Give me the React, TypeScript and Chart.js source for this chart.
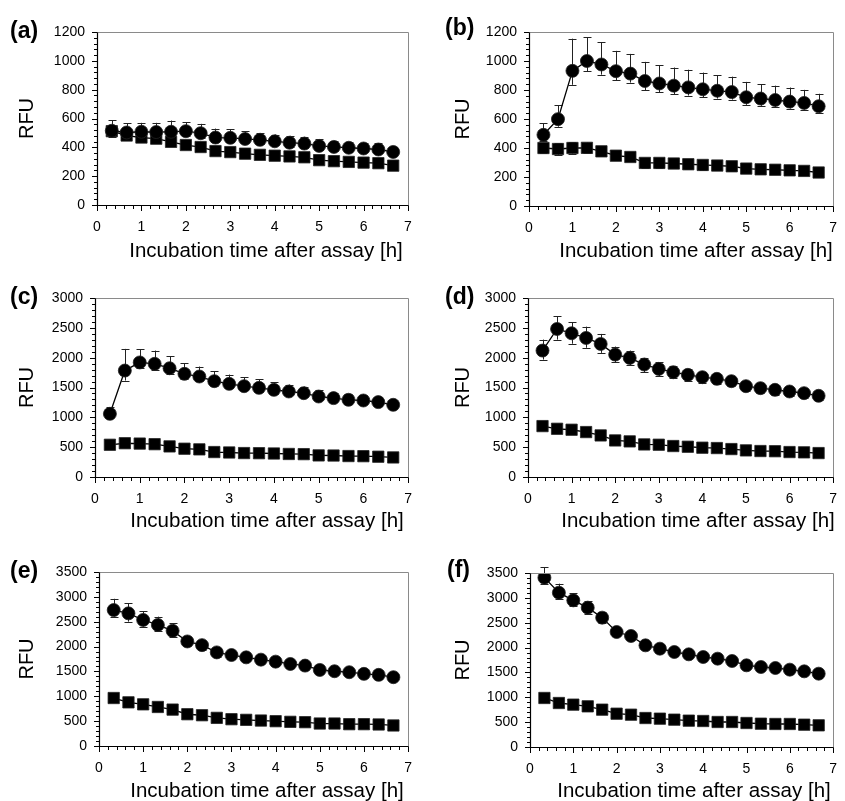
import React, { useEffect, useRef } from 'react';
import { Chart, registerables } from 'chart.js';

Chart.register(...registerables);

// ---------- DATA ----------
const hours = [0.333, 0.667, 1.0, 1.333, 1.667, 2.0, 2.333, 2.667, 3.0, 3.333, 3.667, 4.0, 4.333, 4.667, 5.0, 5.333, 5.667, 6.0, 6.333, 6.667];
const xTicks = [0, 1, 2, 3, 4, 5, 6, 7];
const panelLabels = ['(a)', '(b)', '(c)', '(d)', '(e)', '(f)'];
const yAxisMax = [1200, 1200, 3000, 3000, 3500, 3500];
const yAxisStep = [200, 200, 500, 500, 500, 500];

// (a)
const aCircle = [515, 503, 508, 506, 508, 512, 498, 468, 466, 458, 452, 442, 432, 426, 410, 403, 397, 392, 385, 368];
const aCircleUp = [72, 64, 62, 64, 78, 63, 65, 62, 58, 52, 48, 47, 48, 47, 45, 42, 40, 40, 42, 36];
const aCircleDown = [42, 36, 36, 36, 40, 36, 36, 32, 30, 28, 28, 28, 28, 28, 26, 25, 25, 25, 25, 24];
const aSquare = [512, 482, 468, 460, 438, 416, 402, 374, 367, 356, 348, 342, 337, 331, 311, 304, 299, 294, 290, 273];
const aSquareErr = [20, 18, 18, 18, 16, 16, 15, 15, 15, 14, 14, 14, 14, 14, 13, 13, 13, 13, 13, 12];

// (b)
const bCircle = [491, 599, 932, 1000, 976, 930, 913, 862, 845, 830, 818, 805, 795, 786, 750, 741, 731, 720, 711, 688];
const bCircleUp = [80, 96, 222, 165, 152, 140, 136, 132, 126, 125, 122, 115, 108, 106, 106, 100, 99, 97, 90, 86];
const bCircleDown = [42, 52, 96, 70, 70, 62, 62, 62, 60, 58, 56, 55, 54, 52, 52, 50, 50, 48, 46, 45];
const bSquare = [400, 393, 400, 401, 377, 347, 338, 297, 297, 293, 288, 283, 279, 274, 258, 253, 250, 246, 242, 231];
const bSquareErr = [35, 40, 38, 35, 30, 28, 28, 32, 32, 32, 32, 32, 32, 32, 30, 30, 30, 30, 30, 28];

// (c)
const cCircle = [1059, 1784, 1920, 1896, 1823, 1729, 1684, 1606, 1561, 1522, 1494, 1461, 1433, 1405, 1349, 1322, 1294, 1282, 1255, 1210];
const cCircleUp = [112, 363, 223, 223, 201, 178, 167, 167, 156, 151, 145, 128, 117, 111, 101, 94, 89, 84, 83, 72];
const cCircleDown = [60, 167, 95, 95, 90, 85, 80, 80, 75, 72, 70, 65, 60, 58, 55, 52, 50, 48, 47, 45];
const cSquare = [540, 566, 560, 550, 513, 474, 463, 418, 411, 401, 399, 394, 386, 383, 362, 360, 351, 349, 340, 328];
const cSquareErr = [30, 35, 35, 33, 30, 28, 27, 25, 25, 25, 24, 24, 24, 23, 22, 22, 22, 22, 21, 21];

// (d)
const dCircle = [2119, 2481, 2409, 2331, 2230, 2052, 1996, 1885, 1812, 1756, 1712, 1673, 1645, 1606, 1522, 1489, 1461, 1433, 1405, 1361];
const dCircleUp = [184, 212, 184, 189, 168, 134, 123, 111, 112, 101, 100, 80, 70, 62, 60, 61, 56, 56, 50, 50];
const dCircleDown = [150, 178, 175, 165, 150, 130, 122, 125, 120, 105, 100, 95, 90, 85, 85, 80, 80, 78, 75, 78];
const dSquare = [853, 808, 792, 753, 697, 613, 597, 546, 541, 519, 507, 491, 485, 468, 446, 435, 432, 418, 413, 401];
const dSquareErr = [66, 35, 35, 33, 32, 30, 30, 28, 28, 27, 27, 26, 26, 25, 25, 25, 24, 24, 24, 23];

// (e)
const eCircle = [2735, 2668, 2535, 2435, 2316, 2103, 2029, 1883, 1830, 1783, 1737, 1697, 1650, 1617, 1530, 1504, 1484, 1451, 1431, 1384];
const eCircleUp = [226, 200, 180, 167, 153, 93, 87, 87, 73, 67, 60, 53, 47, 40, 40, 35, 35, 35, 30, 30];
const eCircleDown = [133, 166, 133, 119, 120, 87, 93, 86, 80, 70, 65, 60, 55, 50, 48, 45, 45, 42, 40, 40];
const eSquare = [965, 878, 838, 785, 732, 639, 619, 566, 539, 526, 512, 499, 486, 479, 452, 452, 439, 439, 433, 413];
const eSquareErr = [50, 30, 30, 28, 28, 25, 25, 23, 22, 22, 22, 21, 21, 21, 20, 20, 20, 20, 20, 20];

// (f)
const fCircle = [3406, 3104, 2950, 2803, 2602, 2313, 2233, 2045, 1978, 1911, 1864, 1810, 1777, 1730, 1643, 1609, 1589, 1556, 1522, 1475];
const fCircleUp = [215, 181, 148, 127, 114, 70, 60, 50, 45, 42, 40, 38, 36, 35, 34, 33, 32, 31, 30, 30];
const fCircleDown = [121, 120, 114, 121, 101, 70, 60, 50, 45, 42, 40, 38, 36, 35, 34, 33, 32, 31, 30, 30];
const fSquare = [986, 885, 852, 818, 751, 670, 650, 583, 570, 550, 530, 523, 503, 503, 483, 469, 463, 463, 449, 436];
const fSquareErr = [60, 35, 30, 28, 28, 25, 25, 23, 22, 22, 21, 21, 21, 20, 20, 20, 20, 20, 20, 20];

const yTitle = 'RFU';
const xTitle = 'Incubation time after assay [h]';

const seriesTable = [
  { circle: aCircle, cUp: aCircleUp, cDown: aCircleDown, square: aSquare, sErr: aSquareErr },
  { circle: bCircle, cUp: bCircleUp, cDown: bCircleDown, square: bSquare, sErr: bSquareErr },
  { circle: cCircle, cUp: cCircleUp, cDown: cCircleDown, square: cSquare, sErr: cSquareErr },
  { circle: dCircle, cUp: dCircleUp, cDown: dCircleDown, square: dSquare, sErr: dSquareErr },
  { circle: eCircle, cUp: eCircleUp, cDown: eCircleDown, square: eSquare, sErr: eSquareErr },
  { circle: fCircle, cUp: fCircleUp, cDown: fCircleDown, square: fSquare, sErr: fSquareErr },
];

// ---------- LAYOUT (page coordinates) ----------
const layoutTable = [
  { cx: 0, cy: 0, cw: 420, ch: 265, L: 97, R: 408, T: 32, B: 205, rfuX: 27, titleX: 266, titleBase: 257, labelX: 10, labelY: 32 },
  { cx: 420, cy: 0, cw: 425, ch: 265, L: 529, R: 837, T: 32, B: 206, rfuX: 463, titleX: 696, titleBase: 257, labelX: 445, labelY: 29 },
  { cx: 0, cy: 265, cw: 420, ch: 270, L: 95, R: 409, T: 298, B: 477, rfuX: 27, titleX: 267, titleBase: 527, labelX: 10, labelY: 298 },
  { cx: 420, cy: 265, cw: 425, ch: 270, L: 528, R: 840, T: 298, B: 477, rfuX: 463, titleX: 698, titleBase: 527, labelX: 445, labelY: 298 },
  { cx: 0, cy: 535, cw: 420, ch: 266, L: 99, R: 410, T: 572, B: 746, rfuX: 27, titleX: 267, titleBase: 797, labelX: 10, labelY: 572 },
  { cx: 420, cy: 535, cw: 425, ch: 266, L: 530, R: 840, T: 573, B: 747, rfuX: 463, titleX: 694, titleBase: 797, labelX: 447, labelY: 571 },
];

const FONT = '"Liberation Sans", Arial, Helvetica, sans-serif';
const X_AXIS_H = 30;

function Panel({ idx }: { idx: number }) {
  const ref = useRef<HTMLCanvasElement | null>(null);
  const g = layoutTable[idx];
  useEffect(() => {
    const s = seriesTable[idx];
    const yMax = yAxisMax[idx];
    const yStep = yAxisStep[idx];
    const ox = g.cx;
    const oy = g.cy;

    const errorBars = {
      id: 'errorBars' + idx,
      beforeDatasetsDraw(chart: any) {
        const ctx = chart.ctx;
        const ys = chart.scales.y;
        const xs = chart.scales.x;
        ctx.save();
        ctx.strokeStyle = '#222';
        ctx.lineWidth = 1;
        chart.data.datasets.forEach((ds: any) => {
          ds.data.forEach((p: any, i: number) => {
            const up = ds.errUp[i];
            const down = ds.errDown[i];
            const px = Math.round(xs.getPixelForValue(p.x)) + 0.5;
            const y1 = ys.getPixelForValue(p.y + up);
            const y2 = ys.getPixelForValue(p.y - down);
            ctx.beginPath();
            ctx.moveTo(px, y1);
            ctx.lineTo(px, y2);
            ctx.moveTo(px - 4, Math.round(y1) + 0.5);
            ctx.lineTo(px + 4, Math.round(y1) + 0.5);
            ctx.moveTo(px - 4, Math.round(y2) + 0.5);
            ctx.lineTo(px + 4, Math.round(y2) + 0.5);
            ctx.stroke();
          });
        });
        ctx.restore();
      },
    };

    const frame = {
      id: 'frame' + idx,
      afterDraw(chart: any) {
        const ctx = chart.ctx;
        const a = chart.chartArea;
        const xs = chart.scales.x;
        const ys = chart.scales.y;
        const L = Math.round(a.left) + 0.5;
        const R = Math.round(a.right) + 0.5;
        const T = Math.round(a.top) + 0.5;
        const B = Math.round(a.bottom) + 0.5;
        ctx.save();
        ctx.strokeStyle = '#8a8a8a';
        ctx.lineWidth = 1;
        ctx.beginPath();
        ctx.moveTo(L, T);
        ctx.lineTo(R, T);
        ctx.lineTo(R, B);
        ctx.stroke();
        ctx.strokeStyle = '#000';
        ctx.lineWidth = 1.2;
        ctx.beginPath();
        ctx.moveTo(L, T);
        ctx.lineTo(L, B);
        ctx.lineTo(R, B);
        ctx.stroke();
        ctx.lineWidth = 1;
        ctx.beginPath();
        const yMinor = yStep / 5;
        const nY = Math.round(yMax / yMinor);
        for (let i = 0; i <= nY; i++) {
          const v = i * yMinor;
          const py = Math.round(ys.getPixelForValue(v)) + 0.5;
          const len = i % 5 === 0 ? 5.5 : 3.5;
          ctx.moveTo(L - len, py);
          ctx.lineTo(L, py);
        }
        const xMax = xTicks[xTicks.length - 1];
        const nX = Math.round(xMax / 0.2);
        for (let i = 0; i <= nX; i++) {
          const v = i * 0.2;
          const px = Math.round(xs.getPixelForValue(v)) + 0.5;
          const len = i % 5 === 0 ? 5.5 : 3.5;
          ctx.moveTo(px, B);
          ctx.lineTo(px, B + len);
        }
        ctx.stroke();
        ctx.fillStyle = '#000';
        ctx.font = '20.5px ' + FONT;
        ctx.textAlign = 'center';
        ctx.textBaseline = 'alphabetic';
        ctx.fillText(xTitle, g.titleX - ox, g.titleBase - oy);
        ctx.font = 'bold 23px ' + FONT;
        ctx.textAlign = 'left';
        ctx.textBaseline = 'middle';
        ctx.fillText(panelLabels[idx], g.labelX - ox, g.labelY - oy);
        ctx.restore();
      },
    };

    const chart = new Chart(ref.current as HTMLCanvasElement, {
      type: 'scatter',
      data: {
        datasets: [
          {
            label: 'circle',
            data: hours.map((x, i) => ({ x, y: s.circle[i] })),
            errUp: s.cUp,
            errDown: s.cDown,
            showLine: true,
            borderColor: '#000',
            borderWidth: 1.3,
            backgroundColor: '#000',
            pointStyle: 'circle',
            pointRadius: 6.5,
            pointBorderWidth: 0.8,
            pointBorderColor: '#222',
            pointBackgroundColor: '#000',
          } as any,
          {
            label: 'square',
            data: hours.map((x, i) => ({ x, y: s.square[i] })),
            errUp: s.sErr,
            errDown: s.sErr,
            showLine: true,
            borderColor: '#000',
            borderWidth: 1.3,
            backgroundColor: '#000',
            pointStyle: 'rect',
            pointRadius: 8,
            pointBorderWidth: 0.8,
            pointBorderColor: '#222',
            pointBackgroundColor: '#000',
          } as any,
        ],
      },
      options: {
        animation: false,
        responsive: false,
        devicePixelRatio: 1,
        events: [],
        layout: {
          padding: {
            left: 0,
            top: g.T - g.cy,
            right: g.cx + g.cw - g.R,
            bottom: g.cy + g.ch - g.B - X_AXIS_H,
          },
        },
        plugins: {
          legend: { display: false },
          tooltip: { enabled: false },
          title: { display: false },
        },
        scales: {
          x: {
            type: 'linear',
            min: 0,
            max: xTicks[xTicks.length - 1],
            afterBuildTicks: (scale: any) => {
              scale.ticks = xTicks.map((v) => ({ value: v }));
            },
            ticks: {
              color: '#000',
              font: { size: 14, family: FONT },
              padding: 8,
              maxRotation: 0,
              autoSkip: false,
              callback: (v: any) => String(v),
            },
            grid: { display: false, drawTicks: true, tickLength: 6 },
            border: { display: false },
            afterFit: (scale: any) => {
              scale.height = X_AXIS_H;
            },
          },
          y: {
            type: 'linear',
            min: 0,
            max: yMax,
            ticks: {
              stepSize: yStep,
              color: '#000',
              font: { size: 14, family: FONT },
              padding: 6,
              callback: (v: any) => String(v),
            },
            grid: { display: false, drawTicks: true, tickLength: 6 },
            border: { display: false },
            title: {
              display: true,
              text: yTitle,
              color: '#000',
              font: { size: 20, family: FONT },
              padding: { top: g.rfuX - g.cx - 12, bottom: 0 },
            },
            afterFit: (scale: any) => {
              scale.width = g.L - g.cx;
            },
          },
        },
      } as any,
      plugins: [errorBars, frame],
    });
    return () => chart.destroy();
  }, [idx]);
  return (
    <canvas
      ref={ref}
      width={g.cw}
      height={g.ch}
      style={{ position: 'absolute', left: g.cx, top: g.cy, width: g.cw, height: g.ch }}
    />
  );
}

export default function App() {
  return (
    <div style={{ position: 'absolute', left: 0, top: 0, width: 845, height: 801, background: '#fff', overflow: 'hidden' }}>
      {panelLabels.map((_, i) => (
        <Panel key={i} idx={i} />
      ))}
    </div>
  );
}
